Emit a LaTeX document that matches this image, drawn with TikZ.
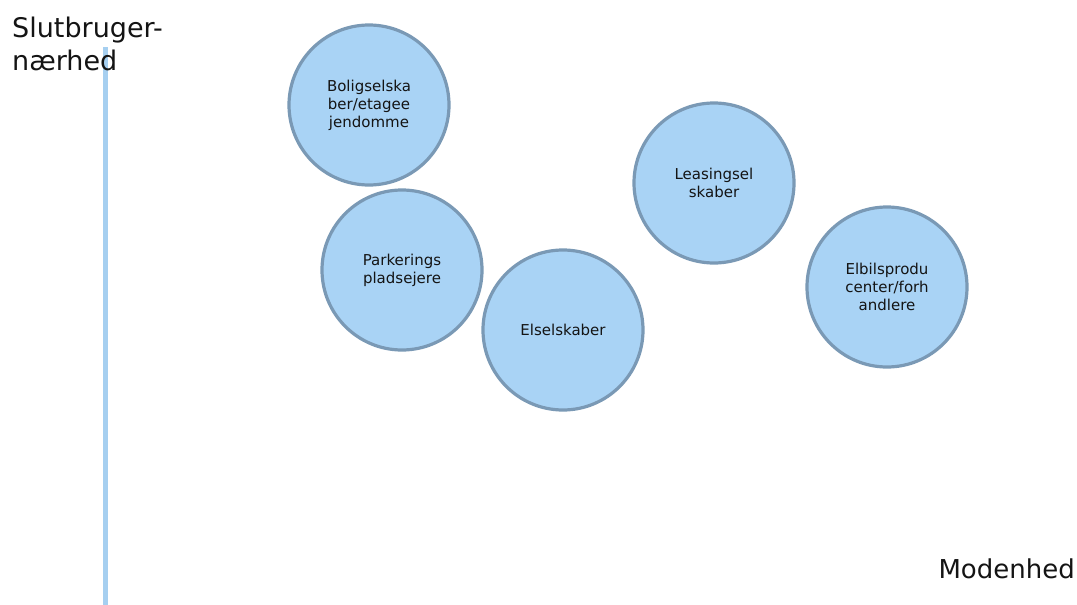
\documentclass[tikz,border=0pt]{standalone}
\usepackage{fontspec}
\setmainfont{DejaVu Sans}
\definecolor{circfill}{RGB}{169,211,245}
\definecolor{circline}{RGB}{122,153,181}
\definecolor{axisblue}{RGB}{166,207,240}
\definecolor{txt}{RGB}{20,20,20}
\tikzset{
  actor/.style={circle, draw=circline, fill=circfill, line width=3.2pt, minimum size=160pt, inner sep=0pt, align=center, text=txt, font=\fontsize{15pt}{18pt}\selectfont},
  axislabel/.style={inner sep=0pt, text=txt, align=left}
}
\begin{document}
\begin{tikzpicture}[x=1pt,y=-1pt]
\useasboundingbox (0,0) rectangle (1077,605);
\coordinate (atop) at (105,47);
\coordinate (abot) at (105,606);
\draw[axisblue, line width=5pt] (atop) -- (abot);
\node[axislabel, anchor=north west, font=\fontsize{27pt}{33pt}\selectfont] (ylab) at (12,17) {Slutbruger-\\nærhed};
\node[axislabel, anchor=base east, font=\fontsize{26pt}{33pt}\selectfont] (xlab) at (1075,578) {Modenhed};
\node[actor] (bolig) at (369,105) {Boligselska\\ber/etagee\\jendomme};
\node[actor] (park) at (402,270) {Parkerings\\pladsejere};
\node[actor] (elsel) at (563,330) {Elselskaber};
\node[actor] (leas) at (714,183) {Leasingsel\\skaber};
\node[actor] (elbil) at (887,287) {Elbilsprodu\\center/forh\\andlere};
\end{tikzpicture}
\end{document}
